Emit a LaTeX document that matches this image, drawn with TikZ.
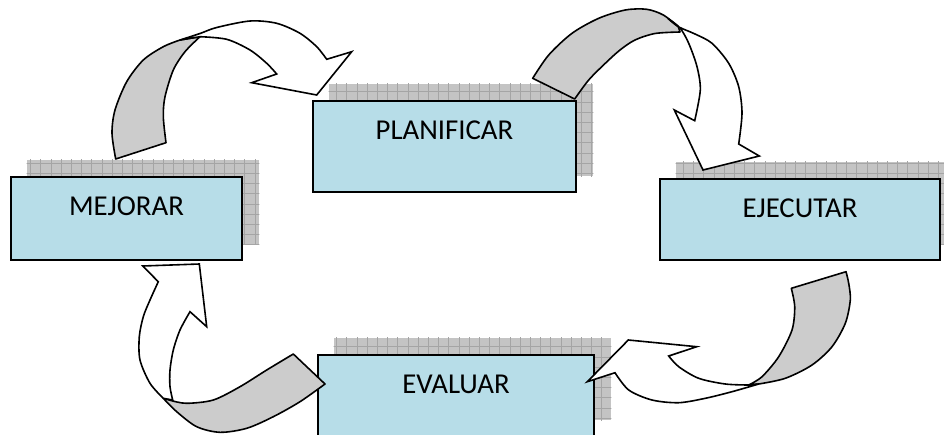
\documentclass[tikz,border=0pt]{standalone}
\usepackage{fontspec}
\setmainfont{Carlito}
\definecolor{boxfill}{RGB}{183,221,232}
\definecolor{ribgray}{RGB}{204,204,204}
\definecolor{shadefill}{RGB}{196,196,196}
\definecolor{shadeline}{RGB}{165,165,165}
\pgfdeclarelayer{background}
\pgfsetlayers{background,main}
\tikzset{
  stage/.style={draw=black, line width=1.9pt, fill=boxfill, inner sep=0pt,
    text height=39pt, font=\fontsize{28.8}{34}\selectfont, anchor=north west},
  back/.style={draw=black, line width=1.6pt, fill=ribgray, line join=round},
  front/.style={draw=black, line width=1.6pt, fill=white, line join=miter},
}
\newcommand\stageshadow[1]{%
  \begin{scope}
    \clip ([shift={(16.5,-16.5)}]#1.south west) rectangle ([shift={(16.5,-16.5)}]#1.north east);
    \fill[shadefill] ([shift={(16.5,-16.5)}]#1.south west) rectangle ([shift={(16.5,-16.5)}]#1.north east);
    \draw[shadeline, line width=0.8pt, step=10.2pt] ([shift={(6,-6)}]#1.south west) grid ([shift={(30,-30)}]#1.north east);
  \end{scope}}
\begin{document}
\begin{tikzpicture}[x=1pt,y=-1pt]
\useasboundingbox (0,0) rectangle (944,434);
% stages
\node[stage, minimum width=231pt, text depth=44pt] (mej) at (10,176) {MEJORAR};
\node[stage, minimum width=263pt, text depth=52pt] (pla) at (312,100) {PLANIFICAR};
\node[stage, minimum width=280pt, text depth=42pt] (eje) at (659,178) {EJECUTAR};
\node[stage, minimum width=276pt, text depth=42pt] (eva) at (317,354) {EVALUAR};
\begin{pgfonlayer}{background}
  \stageshadow{mej}
  \stageshadow{pla}
  \stageshadow{eje}
  \stageshadow{eva}
\end{pgfonlayer}
% arrow MEJORAR -> PLANIFICAR
\filldraw[back] (115.7,159) -- (166,142.7)
  -- plot[smooth] coordinates {(166,142.7) (163.3,116.7) (165,96.7) (173.3,70) (185,51.7) (200,36.7)}
  -- (180,40)
  -- plot[smooth] coordinates {(180,40) (163.3,46.7) (143.3,60) (126.7,81.7) (115,110) (112,133.3) (115.7,159)} -- cycle;
\filldraw[front] (180,40)
  -- plot[smooth] coordinates {(180,40) (200,33.5) (216.7,27.5) (250,21) (276.7,23.3) (300,33.3) (316.7,46.7) (326.7,59.3)}
  -- (351.7,51.7) -- (316.7,95) -- (251.7,82.7) -- (276.7,74)
  -- plot[smooth] coordinates {(276.7,74) (266.7,63.3) (250,50) (226.7,39.3) (200,36.7)} -- cycle;
% arrow PLANIFICAR -> EJECUTAR
\filldraw[back] (532.7,78.3)
  -- plot[smooth] coordinates {(532.7,78.3) (548.7,55) (572,33.3) (598.7,18.3) (625.3,10) (646.7,9.3) (663.3,15) (678.3,26.7)}
  -- (680,32)
  -- plot[smooth] coordinates {(680,32) (655,33.5) (635,40) (620,50) (605.3,63.3) (588.7,80) (574.7,99)} -- cycle;
\filldraw[front] (668,18.5)
  -- plot[smooth] coordinates {(668,18.5) (678.3,26.7) (695,34) (712,43.3) (728.7,63.3) (738.7,86.7) (742,113.3) (738.7,144)}
  -- (759.3,156) -- (703,170) -- (674.3,110) -- (694.7,120.7)
  -- plot[smooth] coordinates {(694.7,120.7) (700.3,90) (697,66.7) (688.7,43.3) (680,28) (668,18.5)} -- cycle;
% arrow EJECUTAR -> EVALUAR
\filldraw[back] (791.3,288.3) -- (846,271.7)
  -- plot[smooth] coordinates {(846,271.7) (848.7,283.3) (850.3,300) (845.3,323.3) (832,346.7) (812,365) (785.3,378.3) (758.7,384)}
  -- (748.7,385)
  -- plot[smooth] coordinates {(748.7,385) (762,376.7) (778.7,356.7) (792,330) (794.7,306.7) (791.3,288.3)} -- cycle;
\filldraw[front] (748.7,385)
  -- plot[smooth] coordinates {(748.7,385) (725.3,384) (698.7,378.3) (678.7,366.7) (668.7,356)}
  -- (696.7,346.7) -- (628.3,340) -- (587.3,381.7) -- (615,372.7)
  -- plot[smooth] coordinates {(615,372.7) (628.7,390) (652,400) (678.7,402.7) (705.3,398.3) (732,391.7) (758.7,384)} -- cycle;
% arrow EVALUAR -> MEJORAR
\filldraw[back] (293.3,354) -- (325,384)
  -- plot[smooth] coordinates {(325,384) (300,401.7) (273.3,416.7) (246.7,428.3) (220,432.3) (196.7,426.7) (176.7,411.7) (163.3,398.3)}
  -- (171.7,400.7)
  -- plot[smooth] coordinates {(171.7,400.7) (186.7,403.3) (213.3,400) (240,386.7) (266.7,370) (293.3,354)} -- cycle;
\filldraw[front] (163.3,398.3)
  -- plot[smooth] coordinates {(163.3,398.3) (150,383.3) (140,360) (139.3,336.7) (143.3,316.7) (150,300) (158.3,281.7)}
  -- (142.7,266) -- (199.3,264) -- (206.7,326.7) -- (190,311.7)
  -- plot[smooth] coordinates {(190,311.7) (180,330) (173.3,350) (170,370) (170,386.7) (172.7,400)} -- cycle;
\end{tikzpicture}
\end{document}
